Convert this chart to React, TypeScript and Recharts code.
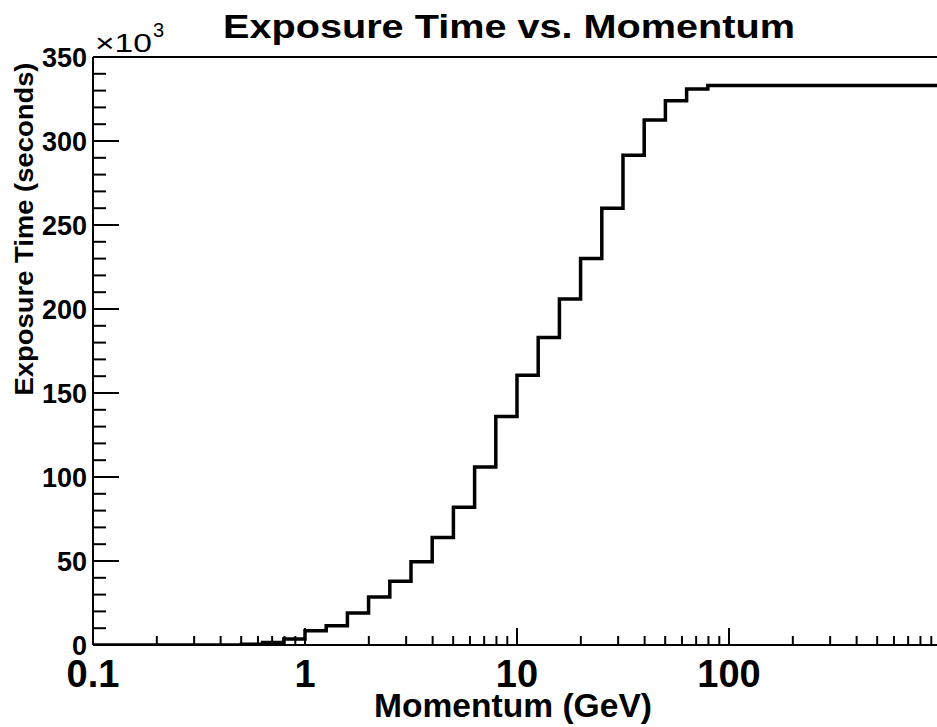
import { LineChart, Line, XAxis, YAxis, ReferenceLine } from 'recharts'

// lower bin edges (GeV), 10 log bins per decade, plus the last upper edge
const binEdges = [
  0.1, 0.1259, 0.1585, 0.1995, 0.2512, 0.3162, 0.3981, 0.5012, 0.631, 0.7943,
  1, 1.259, 1.585, 1.995, 2.512, 3.162, 3.981, 5.012, 6.31, 7.943,
  10, 12.59, 15.85, 19.95, 25.12, 31.62, 39.81, 50.12, 63.1, 79.43,
  100, 125.9, 158.5, 199.5, 251.2, 316.2, 398.1, 501.2, 631, 794.3,
  1000,
]

// exposure time per bin, in units of 10^3 s
const exposure = [
  0, 0, 0, 0, 0, 0, 0, 0.5, 1.5, 3.5,
  8.5, 11.5, 19, 28.5, 38, 49.5, 64, 82, 106, 136,
  160.5, 183, 206, 230, 260, 291.5, 312.5, 324, 331, 333,
  333, 333, 333, 333, 333, 333, 333, 333, 333, 333,
]

const xTicks = [
  0.1, 0.2, 0.3, 0.4, 0.5, 0.6, 0.7, 0.8, 0.9,
  1, 2, 3, 4, 5, 6, 7, 8, 9,
  10, 20, 30, 40, 50, 60, 70, 80, 90,
  100, 200, 300, 400, 500, 600, 700, 800, 900, 1000,
]
const xLabels = ['0.1', '1', '10', '100']

const yTicks = [
  0, 10, 20, 30, 40, 50, 60, 70, 80, 90, 100, 110, 120, 130, 140, 150, 160, 170,
  180, 190, 200, 210, 220, 230, 240, 250, 260, 270, 280, 290, 300, 310, 320, 330, 340, 350,
]

const data = binEdges.map((p, i) => ({
  p,
  t: i < exposure.length ? exposure[i] : exposure[exposure.length - 1],
}))

const FONT = '"Liberation Sans", Arial, Helvetica, sans-serif'

function XTick(props: any) {
  const { x, y, payload } = props
  const label = xLabels.find(l => Number(l) === payload.value)
  const major = label !== undefined || payload.value === 1000
  return (
    <g>
      <line x1={x} x2={x} y1={y} y2={y - (major ? 17 : 9)} stroke="#000" strokeWidth={2} />
      {label && (
        <text x={x} y={y + 42} textAnchor="middle" fontFamily={FONT} fontWeight="bold" fontSize={38} fill="#000">
          {label}
        </text>
      )}
    </g>
  )
}

function YTick(props: any) {
  const { x, y, payload } = props
  const major = payload.value % 50 === 0
  return (
    <g>
      <line x1={x} x2={x + (major ? 26 : 13)} y1={y} y2={y} stroke="#000" strokeWidth={2} />
      {major && (
        <text x={x - 6} y={y} dy="0.36em" textAnchor="end" fontFamily={FONT} fontWeight="bold" fontSize={27} fill="#000">
          {payload.value}
        </text>
      )}
    </g>
  )
}

export default function App() {
  return (
    <div style={{ position: 'absolute', left: 0, top: 0, width: 937, height: 727, overflow: 'hidden', background: '#fff' }}>
      <LineChart width={945} height={727} data={data} margin={{ top: 57, right: 4, left: 0, bottom: 0 }}>
        <XAxis
          dataKey="p"
          type="number"
          scale="log"
          domain={[0.1, 1000]}
          allowDataOverflow
          ticks={xTicks}
          interval={0}
          tickSize={0}
          tickMargin={0}
          tick={XTick}
          height={82}
          axisLine={{ stroke: '#000', strokeWidth: 2 }}
          tickLine={false}
        />
        <YAxis
          type="number"
          domain={[0, 350]}
          allowDataOverflow
          ticks={yTicks}
          interval={0}
          tickSize={0}
          tickMargin={0}
          tick={YTick}
          width={93}
          axisLine={{ stroke: '#000', strokeWidth: 2 }}
          tickLine={false}
        />
        <ReferenceLine y={350} stroke="#000" strokeWidth={2} ifOverflow="visible" />
        <Line
          type="stepAfter"
          dataKey="t"
          stroke="#000"
          strokeWidth={3.5}
          dot={false}
          activeDot={false}
          isAnimationActive={false}
        />
      </LineChart>
      <svg width={937} height={727} style={{ position: 'absolute', left: 0, top: 0, pointerEvents: 'none' }}>
        <text x={509} y={38} textAnchor="middle" fontFamily={FONT} fontWeight="bold" fontSize={33} textLength={572} lengthAdjust="spacingAndGlyphs">
          Exposure Time vs. Momentum
        </text>
        <text x={95} y={52} fontFamily={FONT} fontSize={26} textLength={57} lengthAdjust="spacingAndGlyphs">
          ×10
        </text>
        <text x={153} y={37} fontFamily={FONT} fontSize={20}>
          3
        </text>
        <text x={513} y={717} textAnchor="middle" fontFamily={FONT} fontWeight="bold" fontSize={34} textLength={278} lengthAdjust="spacingAndGlyphs">
          Momentum (GeV)
        </text>
        <text transform="translate(33,229) rotate(-90)" textAnchor="middle" fontFamily={FONT} fontWeight="bold" fontSize={25} textLength={333} lengthAdjust="spacingAndGlyphs">
          Exposure Time (seconds)
        </text>
      </svg>
    </div>
  )
}
